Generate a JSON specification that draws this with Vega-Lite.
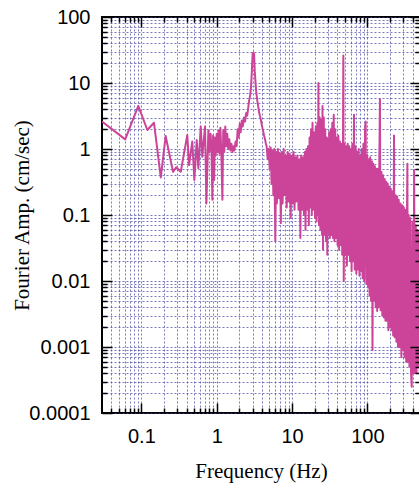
{
  "$schema": "https://vega.github.io/schema/vega-lite/v6.json",
  "width": 318,
  "height": 396,
  "autosize": {"type": "none"},
  "padding": {"left": 102, "top": 17, "right": 0, "bottom": 72},
  "background": "white",
  "config": {
    "view": {"stroke": "black", "strokeWidth": 2},
    "axis": {
      "labelFont": "Liberation Sans",
      "labelFontSize": 20,
      "labelColor": "black",
      "titleFont": "Liberation Serif",
      "titleFontSize": 21,
      "titleFontWeight": "normal",
      "titleColor": "black",
      "domain": false,
      "tickColor": "black",
      "tickWidth": 1.5,
      "gridColor": "#4040A0",
      "gridOpacity": 0.7,
      "gridDash": [2, 2],
      "gridWidth": 1,
      "labelOverlap": false,
      "labelFlush": false,
      "labelBound": false
    }
  },
  "data": {
    "values": [
      {"f": 0.03, "a": 2.6}, {"f": 0.061, "a": 1.4}, {"f": 0.091, "a": 4.5}, {"f": 0.12, "a": 1.94},
      {"f": 0.147, "a": 2.5}, {"f": 0.181, "a": 0.37}, {"f": 0.21, "a": 1.57}, {"f": 0.263, "a": 0.45},
      {"f": 0.291, "a": 0.53}, {"f": 0.333, "a": 0.45}, {"f": 0.407, "a": 1.63}, {"f": 0.43, "a": 0.57},
      {"f": 0.474, "a": 1.3}, {"f": 0.505, "a": 0.34}, {"f": 0.543, "a": 1.37}, {"f": 0.57, "a": 0.51},
      {"f": 0.614, "a": 2.2}, {"f": 0.644, "a": 0.76}, {"f": 0.7, "a": 2.2}, {"f": 0.73, "a": 0.15},
      {"f": 0.775, "a": 1.9}, {"f": 0.8, "a": 0.9}, {"f": 0.83, "a": 1.7}, {"f": 0.855, "a": 0.9},
      {"f": 0.875, "a": 0.17}, {"f": 0.895, "a": 1.6}, {"f": 0.91, "a": 0.8}, {"f": 0.925, "a": 0.34},
      {"f": 0.945, "a": 1.5}, {"f": 0.97, "a": 0.8}, {"f": 1.0, "a": 1.7}, {"f": 1.03, "a": 0.9},
      {"f": 1.06, "a": 1.9}, {"f": 1.09, "a": 0.85}, {"f": 1.12, "a": 2.1}, {"f": 1.15, "a": 0.9},
      {"f": 1.19, "a": 0.17}, {"f": 1.22, "a": 1.9}, {"f": 1.26, "a": 0.9}, {"f": 1.3, "a": 2.2},
      {"f": 1.34, "a": 1.1}, {"f": 1.38, "a": 1.7}, {"f": 1.42, "a": 1.0}, {"f": 1.47, "a": 1.4},
      {"f": 1.52, "a": 0.95}, {"f": 1.57, "a": 1.2}, {"f": 1.62, "a": 0.9}, {"f": 1.67, "a": 1.1},
      {"f": 1.72, "a": 0.95}, {"f": 1.78, "a": 1.3}, {"f": 1.84, "a": 1.1}, {"f": 1.9, "a": 2.0},
      {"f": 1.96, "a": 1.5}, {"f": 2.02, "a": 2.4}, {"f": 2.08, "a": 1.8}, {"f": 2.15, "a": 2.7},
      {"f": 2.22, "a": 2.2}, {"f": 2.3, "a": 3.0}, {"f": 2.38, "a": 2.6}, {"f": 2.46, "a": 3.5},
      {"f": 2.54, "a": 3.2}, {"f": 2.62, "a": 4.2}, {"f": 2.7, "a": 5.5}, {"f": 2.78, "a": 6.5},
      {"f": 2.86, "a": 9}, {"f": 2.92, "a": 14}, {"f": 2.97, "a": 22}, {"f": 3.0, "a": 28},
      {"f": 3.08, "a": 29}, {"f": 3.14, "a": 27}, {"f": 3.2, "a": 15}, {"f": 3.28, "a": 10},
      {"f": 3.36, "a": 7}, {"f": 3.45, "a": 5.5}, {"f": 3.55, "a": 4.5}, {"f": 3.65, "a": 3.6},
      {"f": 3.75, "a": 3.2}, {"f": 3.87, "a": 2.7}, {"f": 4.0, "a": 2.2}, {"f": 4.12, "a": 1.9},
      {"f": 4.25, "a": 1.6}, {"f": 4.38, "a": 1.4}, {"f": 4.5, "a": 1.2},
      {"f": 4.6, "a": 1.1}, {"f": 4.75, "a": 0.7}, {"f": 4.9, "a": 1.0}, {"f": 5.05, "a": 0.5},
      {"f": 5.2, "a": 1.05}, {"f": 5.35, "a": 0.3}, {"f": 5.5, "a": 0.95}, {"f": 5.65, "a": 0.2},
      {"f": 5.8, "a": 1.0}, {"f": 6.0, "a": 0.04}, {"f": 6.15, "a": 0.9}, {"f": 6.3, "a": 0.15},
      {"f": 6.5, "a": 1.0}, {"f": 6.7, "a": 0.18}, {"f": 6.9, "a": 0.85}, {"f": 7.1, "a": 0.075},
      {"f": 7.3, "a": 0.9}, {"f": 7.5, "a": 0.15}, {"f": 7.75, "a": 1.0}, {"f": 8.0, "a": 0.2},
      {"f": 8.25, "a": 0.8}, {"f": 8.5, "a": 0.13}, {"f": 8.75, "a": 0.9}, {"f": 9.0, "a": 0.16},
      {"f": 9.3, "a": 0.85}, {"f": 9.6, "a": 0.09}, {"f": 9.9, "a": 0.8}, {"f": 10.2, "a": 0.15},
      {"f": 10.5, "a": 0.9}, {"f": 10.8, "a": 0.12}, {"f": 11.1, "a": 0.75}, {"f": 11.4, "a": 0.16},
      {"f": 11.8, "a": 0.8}, {"f": 12.2, "a": 0.12}, {"f": 12.6, "a": 0.7}, {"f": 12.9, "a": 0.045},
      {"f": 13.2, "a": 0.8}, {"f": 13.6, "a": 0.12}, {"f": 14.0, "a": 0.75}, {"f": 14.4, "a": 0.1},
      {"f": 14.8, "a": 0.9}, {"f": 15.1, "a": 0.06}, {"f": 15.5, "a": 1.0}, {"f": 15.9, "a": 0.12},
      {"f": 16.3, "a": 1.1}, {"f": 16.7, "a": 0.07}, {"f": 17.1, "a": 1.5}, {"f": 17.5, "a": 0.13},
      {"f": 17.9, "a": 2.0}, {"f": 18.3, "a": 0.1}, {"f": 18.7, "a": 2.5}, {"f": 19.2, "a": 0.12},
      {"f": 19.7, "a": 1.8}, {"f": 20.2, "a": 0.09}, {"f": 20.7, "a": 2.2}, {"f": 21.2, "a": 0.08},
      {"f": 21.7, "a": 2.5}, {"f": 22.1, "a": 0.1}, {"f": 22.4, "a": 10}, {"f": 22.8, "a": 0.07},
      {"f": 23.3, "a": 3.0}, {"f": 23.8, "a": 0.06}, {"f": 24.4, "a": 2.8}, {"f": 25.0, "a": 0.05},
      {"f": 25.4, "a": 4.5}, {"f": 25.8, "a": 0.03}, {"f": 26.4, "a": 3.0}, {"f": 27.0, "a": 0.05},
      {"f": 27.6, "a": 2.0}, {"f": 28.3, "a": 0.04}, {"f": 29.0, "a": 1.5}, {"f": 29.4, "a": 0.025},
      {"f": 29.9, "a": 1.4}, {"f": 30.5, "a": 0.05}, {"f": 31.1, "a": 1.8}, {"f": 31.8, "a": 0.045},
      {"f": 32.6, "a": 2.0}, {"f": 33.4, "a": 0.05}, {"f": 34.2, "a": 2.5}, {"f": 35.0, "a": 0.045},
      {"f": 35.8, "a": 3.3}, {"f": 36.6, "a": 0.04}, {"f": 37.5, "a": 2.0}, {"f": 38.4, "a": 0.045},
      {"f": 39.3, "a": 1.5}, {"f": 40.2, "a": 0.035}, {"f": 41.2, "a": 1.6}, {"f": 42.2, "a": 0.03},
      {"f": 43.2, "a": 1.3}, {"f": 44.2, "a": 0.035}, {"f": 45.3, "a": 1.2}, {"f": 46.4, "a": 0.025},
      {"f": 47.5, "a": 1.4}, {"f": 48.0, "a": 26}, {"f": 48.6, "a": 0.01}, {"f": 49.8, "a": 1.2},
      {"f": 51.0, "a": 0.025}, {"f": 52.2, "a": 1.1}, {"f": 53.5, "a": 0.017}, {"f": 54.8, "a": 1.2},
      {"f": 56.1, "a": 0.025}, {"f": 57.5, "a": 1.1}, {"f": 58.9, "a": 0.02}, {"f": 60.3, "a": 1.0},
      {"f": 61.8, "a": 0.014}, {"f": 63.3, "a": 1.2}, {"f": 64.8, "a": 0.02}, {"f": 66.5, "a": 3.3},
      {"f": 68.0, "a": 0.015}, {"f": 69.7, "a": 1.1}, {"f": 71.4, "a": 0.013}, {"f": 73.1, "a": 0.9},
      {"f": 74.9, "a": 0.015}, {"f": 76.7, "a": 1.0}, {"f": 78.6, "a": 0.012}, {"f": 80.5, "a": 0.8},
      {"f": 82.5, "a": 0.014}, {"f": 84.5, "a": 1.0}, {"f": 86.5, "a": 0.011}, {"f": 88.6, "a": 1.2},
      {"f": 90.7, "a": 0.01}, {"f": 93.0, "a": 1.9}, {"f": 95.0, "a": 2.6}, {"f": 97.0, "a": 0.009},
      {"f": 99.5, "a": 0.8}, {"f": 102, "a": 0.008}, {"f": 104, "a": 0.7}, {"f": 107, "a": 0.006},
      {"f": 109, "a": 0.75}, {"f": 112, "a": 0.005}, {"f": 115, "a": 0.65}, {"f": 117, "a": 0.0009},
      {"f": 120, "a": 0.6}, {"f": 123, "a": 0.005}, {"f": 126, "a": 0.55}, {"f": 129, "a": 0.004},
      {"f": 132, "a": 0.5}, {"f": 135, "a": 0.0035}, {"f": 138, "a": 0.5}, {"f": 141, "a": 0.004},
      {"f": 144, "a": 0.5}, {"f": 147, "a": 5.7}, {"f": 150, "a": 0.0036}, {"f": 154, "a": 0.45},
      {"f": 158, "a": 0.003}, {"f": 162, "a": 0.4}, {"f": 166, "a": 0.0028}, {"f": 170, "a": 0.35},
      {"f": 174, "a": 0.0025}, {"f": 178, "a": 0.32}, {"f": 182, "a": 0.0025}, {"f": 186, "a": 0.3},
      {"f": 190, "a": 0.0018}, {"f": 195, "a": 0.27}, {"f": 200, "a": 0.002}, {"f": 205, "a": 0.25},
      {"f": 210, "a": 0.0018}, {"f": 215, "a": 0.23}, {"f": 220, "a": 0.0015}, {"f": 226, "a": 1.6},
      {"f": 231, "a": 0.0014}, {"f": 237, "a": 0.2}, {"f": 243, "a": 0.0012}, {"f": 249, "a": 0.19},
      {"f": 255, "a": 0.001}, {"f": 261, "a": 0.17}, {"f": 268, "a": 0.001}, {"f": 275, "a": 0.15},
      {"f": 283, "a": 0.0007}, {"f": 290, "a": 0.14}, {"f": 297, "a": 0.0009}, {"f": 305, "a": 0.13},
      {"f": 313, "a": 0.0007}, {"f": 320, "a": 0.12}, {"f": 328, "a": 0.0006}, {"f": 336, "a": 0.11},
      {"f": 340, "a": 0.6}, {"f": 345, "a": 0.0006}, {"f": 354, "a": 0.1}, {"f": 362, "a": 0.0005},
      {"f": 371, "a": 0.09}, {"f": 380, "a": 0.0004}, {"f": 388, "a": 0.00025}, {"f": 398, "a": 0.08},
      {"f": 408, "a": 0.0004}, {"f": 418, "a": 0.48}, {"f": 428, "a": 0.0004}, {"f": 439, "a": 0.07},
      {"f": 450, "a": 0.0004}, {"f": 461, "a": 0.06}, {"f": 472, "a": 0.0005}, {"f": 484, "a": 0.055},
      {"f": 496, "a": 0.0004}, {"f": 500, "a": 0.05}
    ]
  },
  "layer": [
    {
      "mark": {"type": "line", "opacity": 0},
      "encoding": {
        "x": {"field": "f", "type": "quantitative", "scale": {"type": "log", "domain": [0.03, 500]},
          "axis": {"orient": "bottom", "title": null, "labels": false, "ticks": false, "grid": true, "zindex": 0,
            "values": [0.04,0.05,0.06,0.07,0.08,0.09,0.1,0.2,0.3,0.4,0.5,0.6,0.7,0.8,0.9,1,2,3,4,5,6,7,8,9,10,20,30,40,50,60,70,80,90,100,200,300,400]}},
        "y": {"field": "a", "type": "quantitative", "scale": {"type": "log", "domain": [0.0001, 100]},
          "axis": {"orient": "left", "title": null, "labels": false, "ticks": false, "grid": true, "zindex": 0,
            "values": [0.0001,0.0002,0.0003,0.0004,0.0005,0.0006,0.0007,0.0008,0.0009,0.001,0.002,0.003,0.004,0.005,0.006,0.007,0.008,0.009,0.01,0.02,0.03,0.04,0.05,0.06,0.07,0.08,0.09,0.1,0.2,0.3,0.4,0.5,0.6,0.7,0.8,0.9,1,2,3,4,5,6,7,8,9,10,20,30,40,50,60,70,80,90,100]}}
      }
    },
    {
      "mark": {"type": "line", "color": "#CC4499", "strokeWidth": 2, "strokeJoin": "round", "clip": true},
      "encoding": {
        "x": {"field": "f", "type": "quantitative", "scale": {"type": "log", "domain": [0.03, 500]},
          "axis": {"orient": "bottom", "title": "Frequency (Hz)", "values": [0.1, 1, 10, 100], "format": "~g",
            "ticks": false, "grid": false, "labelPadding": 13, "titlePadding": 14, "zindex": 1}},
        "y": {"field": "a", "type": "quantitative", "scale": {"type": "log", "domain": [0.0001, 100]},
          "axis": {"orient": "left", "title": "Fourier Amp. (cm/sec)", "values": [0.0001, 0.001, 0.01, 0.1, 1, 10, 100], "format": "~g",
            "ticks": false, "grid": false, "labelPadding": 12, "titlePadding": -4, "zindex": 1}}
      }
    },
    {
      "mark": {"type": "line", "opacity": 0},
      "encoding": {
        "x": {"field": "f", "type": "quantitative", "scale": {"type": "log", "domain": [0.03, 500]},
          "axis": {"orient": "bottom", "title": null, "labels": false, "grid": false, "tickSize": -10, "zindex": 1,
            "values": [0.1, 1, 10, 100]}},
        "y": {"field": "a", "type": "quantitative", "scale": {"type": "log", "domain": [0.0001, 100]},
          "axis": {"orient": "left", "title": null, "labels": false, "grid": false, "tickSize": -10, "zindex": 1,
            "values": [0.0001, 0.001, 0.01, 0.1, 1, 10, 100]}}
      }
    },
    {
      "mark": {"type": "line", "opacity": 0},
      "encoding": {
        "x": {"field": "f", "type": "quantitative", "scale": {"type": "log", "domain": [0.03, 500]},
          "axis": {"orient": "bottom", "title": null, "labels": false, "grid": false, "tickSize": -5, "zindex": 1,
            "values": [0.04,0.05,0.06,0.07,0.08,0.09,0.2,0.3,0.4,0.5,0.6,0.7,0.8,0.9,2,3,4,5,6,7,8,9,20,30,40,50,60,70,80,90,200,300,400]}},
        "y": {"field": "a", "type": "quantitative", "scale": {"type": "log", "domain": [0.0001, 100]},
          "axis": {"orient": "left", "title": null, "labels": false, "grid": false, "tickSize": -5, "zindex": 1,
            "values": [0.0002,0.0003,0.0004,0.0005,0.0006,0.0007,0.0008,0.0009,0.002,0.003,0.004,0.005,0.006,0.007,0.008,0.009,0.02,0.03,0.04,0.05,0.06,0.07,0.08,0.09,0.2,0.3,0.4,0.5,0.6,0.7,0.8,0.9,2,3,4,5,6,7,8,9,20,30,40,50,60,70,80,90]}}
      }
    },
    {
      "mark": {"type": "line", "opacity": 0},
      "encoding": {
        "x": {"field": "f", "type": "quantitative", "scale": {"type": "log", "domain": [0.03, 500]},
          "axis": {"orient": "top", "title": null, "labels": false, "grid": false, "tickSize": -10, "zindex": 1,
            "values": [0.1, 1, 10, 100]}},
        "y": {"field": "a", "type": "quantitative", "scale": {"type": "log", "domain": [0.0001, 100]},
          "axis": {"orient": "right", "title": null, "labels": false, "grid": false, "tickSize": -10, "zindex": 1,
            "values": [0.0001, 0.001, 0.01, 0.1, 1, 10, 100]}}
      }
    },
    {
      "mark": {"type": "line", "opacity": 0},
      "encoding": {
        "x": {"field": "f", "type": "quantitative", "scale": {"type": "log", "domain": [0.03, 500]},
          "axis": {"orient": "top", "title": null, "labels": false, "grid": false, "tickSize": -5, "zindex": 1,
            "values": [0.04,0.05,0.06,0.07,0.08,0.09,0.2,0.3,0.4,0.5,0.6,0.7,0.8,0.9,2,3,4,5,6,7,8,9,20,30,40,50,60,70,80,90,200,300,400]}},
        "y": {"field": "a", "type": "quantitative", "scale": {"type": "log", "domain": [0.0001, 100]},
          "axis": {"orient": "right", "title": null, "labels": false, "grid": false, "tickSize": -5, "zindex": 1,
            "values": [0.0002,0.0003,0.0004,0.0005,0.0006,0.0007,0.0008,0.0009,0.002,0.003,0.004,0.005,0.006,0.007,0.008,0.009,0.02,0.03,0.04,0.05,0.06,0.07,0.08,0.09,0.2,0.3,0.4,0.5,0.6,0.7,0.8,0.9,2,3,4,5,6,7,8,9,20,30,40,50,60,70,80,90]}}
      }
    }
  ],
  "resolve": {"axis": {"x": "independent", "y": "independent"}}
}
